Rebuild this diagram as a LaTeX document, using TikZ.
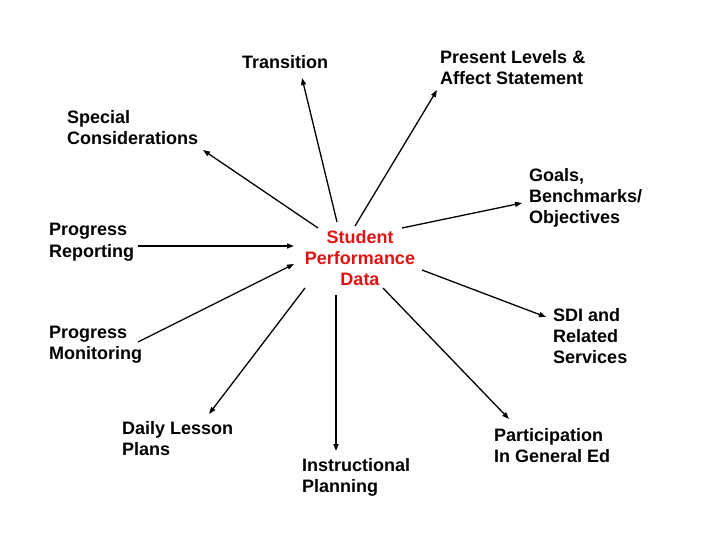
\documentclass[tikz,border=0pt]{standalone}
\usepackage{fontspec}
\setmainfont{Liberation Sans}
\usetikzlibrary{arrows.meta}
\tikzset{
  lbl/.style={font=\fontsize{18}{21}\selectfont\bfseries, align=left, anchor=base west, inner sep=0pt},
  hub/.style={font=\fontsize{18}{21}\selectfont\bfseries, align=center, anchor=base, inner sep=0pt, text={rgb,255:red,225;green,20;blue,20}},
  link/.style={line width=1.3pt, -{Triangle[length=7pt,width=5pt]}}
}
\begin{document}
\begin{tikzpicture}[x=1pt,y=-1pt]
\useasboundingbox[fill=white] (0,0) rectangle (720,540);
% nodes (anchored at the baseline of their last line)
\node[hub] (spd) at (360,285) {Student\\Performance\\Data};
\node[lbl] (tr) at (242,69) {Transition};
\node[lbl] (pl) at (440,85) {Present Levels \&\\Affect Statement};
\node[lbl] (sc) at (67,145) {Special\\Considerations};
\node[lbl] (pr) at (49,257) {Progress\\Reporting};
\node[lbl] (pm) at (49,359) {Progress\\Monitoring};
\node[lbl] (go) at (529,224) {Goals,\\Benchmarks/\\Objectives};
\node[lbl] (sdi) at (553,363) {SDI and\\Related\\Services};
\node[lbl] (dl) at (122,455) {Daily Lesson\\Plans};
\node[lbl] (ip) at (302,492) {Instructional\\Planning};
\node[lbl] (pg) at (494,462) {Participation\\In General Ed};
% connector end points
\coordinate (trS) at (337,222); \coordinate (trE) at (302,78);
\coordinate (plS) at (355,226); \coordinate (plE) at (437,90);
\coordinate (scS) at (318,228); \coordinate (scE) at (203,150);
\coordinate (prS) at (138,246); \coordinate (prE) at (294,246);
\coordinate (pmS) at (138,342); \coordinate (pmE) at (294,264);
\coordinate (goS) at (402,228); \coordinate (goE) at (522,203);
\coordinate (sdiS) at (422,270); \coordinate (sdiE) at (546,317);
\coordinate (dlS) at (305,288); \coordinate (dlE) at (209,414);
\coordinate (ipS) at (336,295); \coordinate (ipE) at (336,451);
\coordinate (pgS) at (383,288); \coordinate (pgE) at (509,419);
% connectors
\draw[link] (trS) -- (trE);
\draw[link] (plS) -- (plE);
\draw[link] (scS) -- (scE);
\draw[link] (prS) -- (prE);
\draw[link] (pmS) -- (pmE);
\draw[link] (goS) -- (goE);
\draw[link] (sdiS) -- (sdiE);
\draw[link] (dlS) -- (dlE);
\draw[link] (ipS) -- (ipE);
\draw[link] (pgS) -- (pgE);
\end{tikzpicture}
\end{document}
